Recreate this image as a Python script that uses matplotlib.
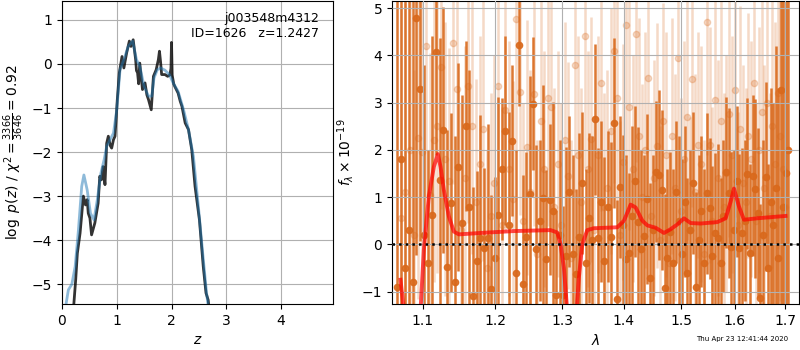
import numpy as np
import matplotlib
matplotlib.use("Agg")
import matplotlib.pyplot as plt
from matplotlib.ticker import NullLocator, FixedLocator, FixedFormatter

# ---------------- p(z) panel data ----------------
z_chi = [0.207, 0.25, 0.28, 0.33, 0.39, 0.43, 0.46, 0.48, 0.51, 0.54, 0.60, 0.66, 0.69, 0.72, 0.75, 0.785,
         0.816, 0.846, 0.88, 0.907, 0.94, 0.968, 1.01, 1.047, 1.096, 1.13, 1.18, 1.23, 1.26, 1.30,
         1.345, 1.36, 1.38, 1.40, 1.42, 1.47, 1.516, 1.55, 1.58, 1.63, 1.67, 1.72, 1.76, 1.78, 1.80, 1.82,
         1.88, 1.93, 1.97, 1.99, 2.0, 2.012, 2.04, 2.06, 2.12, 2.16, 2.19, 2.25, 2.31, 2.37, 2.43,
         2.51, 2.58, 2.63, 2.67, 2.69]
lnp_chi = [-5.6, -4.9, -4.3, -3.84, -3.0, -3.2, -3.08, -3.39, -3.5, -3.88, -3.61, -3.16, -2.55, -2.63, -2.33, -2.74,
           -1.80, -1.64, -1.85, -1.91, -1.72, -1.64, -0.81, -0.20, 0.17, -0.09, 0.25, 0.52, 0.40, 0.55,
           0.10, -0.15, -0.20, -0.45, 0.02, -0.58, -0.43, -0.7, -0.81, -1.04, -0.28, -0.13, 0.1, 0.29, 0.05, -0.24,
           -0.24, -0.28, -0.25, -0.1, 0.49, -0.25, -0.45, -0.51, -0.66, -0.85, -0.96, -1.34, -1.49, -1.95, -2.78,
           -3.54, -4.6, -5.2, -5.36, -5.6]

z_smooth = [0.055, 0.116, 0.18, 0.24, 0.30, 0.36, 0.40, 0.46, 0.52, 0.585, 0.645, 0.71, 0.77,
            0.816, 0.877, 0.94, 1.0, 1.06, 1.13, 1.21, 1.29, 1.36, 1.42, 1.50, 1.58, 1.64,
            1.68, 1.74, 1.80, 1.88, 1.96, 2.03, 2.12, 2.22, 2.31, 2.40, 2.49, 2.57, 2.64, 2.68]
lnp_smooth = [-5.6, -5.13, -5.0, -4.6, -3.77, -2.78, -2.52, -2.86, -3.39, -3.54, -3.08, -2.48, -2.17,
              -1.87, -1.72, -1.57, -1.04, -0.13, 0.10, 0.40, 0.52, 0.10, -0.05, -0.51, -0.73, -0.73,
              -0.32, -0.13, -0.09, -0.14, -0.24, -0.43, -0.62, -1.04, -1.49, -2.10, -3.23, -4.3, -5.2, -5.6]

# ---------------- spectrum panel data ----------------
flux_dark = [-0.9, 1.8, -0.5, 0.3, -0.8, 4.78,
             3.28, 0.2, -0.4, 0.61, 4.08, 1.36, 2.42, -0.47, 0.88, -0.80,
             1.63, 0.46, 2.51, 0.78, -1.09, -0.35, 0.13, -0.08, 0.14, -0.95,
             -0.28, 0.62, 1.59, 2.40, 0.41, 2.19, -0.61, 4.22, -0.83, 0.15,
             1.06, 2.98, -0.10, 0.50, 0.97, -0.32, 0.94, 0.71, -1.07, 0.20,
             -1.08, -0.25, 1.11, -0.20, -0.63, 0.15, 1.30, -0.40, 0.55, 0.10,
             2.65, 0.14, 0.90, -0.35, 0.80, 0.16, 2.56, -1.16, 1.21, 0.41,
             -0.31, -0.19, 0.60, 1.33, 0.48, -0.11, 0.18, 0.95, -0.71, 0.30,
             1.54, 1.47, 1.15, -0.93, -0.30,
             0.25, -0.4, 1.1, 0.5, -0.2, 0.9, -0.6, 0.3, 1.3, -0.9,
             0.1, 0.7, -0.4, 1.08, 0.76, -0.25, 0.23, 0.13, -0.40, 0.6,
             1.52, 1.08, -0.05, 0.30, 1.33, -0.08, 0.23, 0.5, 1.49, -0.19,
             1.45, 1.18, 0.66, -1.14, 0.2, 1.43, -0.5, 0.9, 0.4, 1.2, -0.3,
             3.27, 0.8, 1.5, 2.0]
err_dark = [7.0, 6.5, 6.0, 5.5, 6.0, 5.0,
            3.2, 3.6, 2.4, 3.8, 2.2, 3.0, 2.6, 2.9, 1.9, 3.1,
            2.2, 2.7, 1.8, 2.9, 2.3, 1.9, 2.6, 1.7, 2.4, 2.0,
            1.7, 2.5, 1.5, 2.0, 2.4, 1.6, 2.6, 1.3, 2.3, 1.8,
            2.5, 1.4, 2.2, 1.7, 2.4, 1.9, 1.6, 2.3, 1.8, 2.0,
            1.9, 2.3, 1.6, 2.1, 1.8, 2.2, 1.5, 2.0, 1.8, 2.2,
            1.6, 1.9, 1.7, 2.2, 1.6, 2.0, 1.8, 2.1, 1.5, 1.9,
            2.2, 1.7, 1.9, 1.6, 2.0, 2.1, 1.7, 1.8, 2.0, 1.6,
            1.5, 1.8, 1.7, 2.0, 1.9,
            1.7, 2.0, 1.5, 1.8, 2.0, 1.6, 2.0, 1.7, 1.5, 2.0,
            1.8, 1.6, 2.0, 1.7, 1.5, 1.9, 1.7, 2.0, 1.8, 1.6,
            1.6, 1.8, 2.0, 1.7, 1.6, 2.0, 1.8, 1.7, 1.6, 1.9,
            1.7, 1.9, 1.8, 2.0, 2.0, 2.0, 2.2, 2.4, 2.6, 3.0, 3.6,
            6.0, 7.0, 8.0, 8.0]
flux_light = [0.55, 1.1, 2.0, 0.2, 2.25, 1.95, 4.2, 1.05, 2.2, 2.5,
              3.75, 1.8, 1.35, 4.27, 3.28, 0.3, 1.4, 3.35, 2.5, 0.9,
              1.7, 2.45, -0.5, 0.6, 1.3, 3.35, 0.4, 2.85, 1.6, 0.95,
              4.76, 3.23, 0.5, 2.05, 1.1, 3.19, -0.2, 2.6, 1.6, 3.09,
              2.9, 0.8, 1.7, 0.4, 2.2, 1.45, -0.3, 3.8, 1.9, 0.9,
              4.41, 1.6, 2.22, 0.3, 1.9, 3.41, 0.8, 1.2, 2.4, 4.1,
              3.1, 0.2, 1.75, 4.64, 2.9, 1.6, 4.45, 2.3, 1.0, 2.0,
              3.53, 0.6, 1.4, 2.09, 0.1, 2.6, 1.9, -0.4, 2.3, 1.2,
              3.94, 0.7, 1.8, 2.7, 0.3, 3.50, 1.1, 2.1, 1.7, -0.2,
              4.70, 2.1, 0.5, 3.05, 1.4, 2.6, 0.8, 1.5, 2.75, 1.9,
              3.27, 0.4, 2.45, 1.3, 0.9, 2.3, 1.8, 3.41, 0.5, 2.0,
              2.8, 1.2, 3.0, 0.6, 2.5, 1.7, 3.2, 2.3, 1.6, 0.8]
err_light = [4.5, 4.0, 3.8, 3.5, 3.4, 3.2, 3.2, 3.0, 3.0, 3.1,
             3.0, 2.9, 2.8, 3.0, 2.9, 2.7, 2.8, 2.9, 2.7, 2.6,
             2.7, 2.8, 2.5, 2.6, 2.7, 2.8, 2.5, 2.6, 2.7, 2.5,
             2.8, 2.6, 2.5, 2.7, 2.6, 2.8, 2.4, 2.6, 2.5, 2.7,
             2.6, 2.5, 2.4, 2.6, 2.5, 2.4, 2.5, 2.7, 2.5, 2.4,
             2.8, 2.5, 2.6, 2.4, 2.5, 2.7, 2.4, 2.5, 2.6, 2.8,
             2.6, 2.4, 2.5, 2.8, 2.6, 2.4, 2.7, 2.5, 2.4, 2.5,
             2.6, 2.4, 2.5, 2.6, 2.4, 2.5, 2.6, 2.4, 2.5, 2.4,
             2.7, 2.4, 2.5, 2.6, 2.4, 2.7, 2.5, 2.4, 2.5, 2.4,
             2.8, 2.5, 2.4, 2.6, 2.5, 2.6, 2.4, 2.5, 2.6, 2.5,
             2.7, 2.4, 2.6, 2.5, 2.4, 2.6, 2.5, 2.7, 2.5, 2.6,
             2.7, 2.6, 2.8, 2.6, 3.0, 3.0, 3.3, 3.5, 3.8, 4.2]

wave_model = [1.0709, 1.0752, 1.0969, 1.1013, 1.1079, 1.1146, 1.1200, 1.1236, 1.1281, 1.1349,
              1.1417, 1.1486, 1.1788, 1.2270, 1.2823, 1.2926, 1.2978, 1.3030, 1.3082, 1.3230,
              1.3267, 1.3320, 1.3401, 1.3508, 1.3893, 1.4005, 1.4117, 1.4202, 1.4317, 1.4403,
              1.4547, 1.4694, 1.4812, 1.4931, 1.5051, 1.5172, 1.5355, 1.5665, 1.5823, 1.5918,
              1.5982, 1.6078, 1.6175, 1.6431, 1.6764, 1.7002]
flux_model = [-0.75, -1.4, -1.4, -0.12, 1.01, 1.64, 1.91, 1.64, 1.15, 0.59,
              0.27, 0.21, 0.24, 0.28, 0.30, 0.25, 0.0, -0.5, -1.4, -1.4,
              -0.7, 0.0, 0.30, 0.34, 0.36, 0.50, 0.84, 0.78, 0.50, 0.40,
              0.35, 0.24, 0.32, 0.42, 0.55, 0.45, 0.44, 0.47, 0.55, 0.90,
              1.18, 0.80, 0.52, 0.55, 0.58, 0.60]

xticks_right = [1.1, 1.2, 1.3, 1.4, 1.5, 1.6, 1.7]
xtick_labels_right = ["1.1", "1.2", "1.3", "1.4", "1.5", "1.6", "1.7"]

wave_dark = np.linspace(1.066, 1.706, len(flux_dark))
wave_light = np.linspace(1.072, 1.700, len(flux_light))

# ---------------- figure ----------------
fig = plt.figure(figsize=(8, 3.5), dpi=100)
ax1 = fig.add_axes([0.0775, 0.1314, 0.3388, 0.8657])
ax2 = fig.add_axes([0.49, 0.1314, 0.50875, 0.8657])

ax1.plot(z_chi, lnp_chi, color='k', alpha=0.8, lw=2)
ax1.plot(z_smooth, lnp_smooth, color='tab:blue', alpha=0.5, lw=2)
ax1.set_xlim(0, 4.95)
ax1.set_ylim(-5.45, 1.43)
ax1.set_xticks([0, 1, 2, 3, 4])
ax1.set_yticks([-5, -4, -3, -2, -1, 0, 1])
ax1.grid(True)
ax1.set_xlabel(r'$z$')
ax1.set_ylabel(r'$\log\ p(z)$' + ' / ' + r'$\chi^2=\frac{3366}{3646}=0.92$')
ax1.text(0.95, 0.965, 'j003548m4312\nID=1626   z=1.2427', ha='right', va='top',
         transform=ax1.transAxes, fontsize=9)

oc = '#d9691c'
ax2.errorbar(wave_light, flux_light, yerr=err_light, color=oc, alpha=0.25, marker='o',
             ms=4.5, linestyle='none', elinewidth=1.8, zorder=1)
ax2.errorbar(wave_dark, flux_dark, yerr=err_dark, color=oc, alpha=0.9, marker='o',
             ms=4.5, linestyle='none', elinewidth=1.8, zorder=2)
ax2.plot(wave_model, flux_model, color='r', alpha=0.7, lw=2.8, zorder=3)
ax2.axhline(0, color='k', ls=':', lw=1.8, zorder=4)
ax2.set_xscale('log')
ax2.set_xlim(1.06, 1.728)
ax2.set_ylim(-1.264, 5.15)
ax2.xaxis.set_major_locator(FixedLocator(xticks_right))
ax2.xaxis.set_major_formatter(FixedFormatter(xtick_labels_right))
ax2.xaxis.set_minor_locator(NullLocator())
ax2.set_yticks([-1, 0, 1, 2, 3, 4, 5])
ax2.set_axisbelow(False)
ax2.grid(True, zorder=5)
ax2.set_xlabel(r'$\lambda$')
ax2.set_ylabel(r'$f_\lambda\times10^{-19}$')

fig.text(0.985, 0.031, 'Thu Apr 23 12:41:44 2020', ha='right', va='center', fontsize=5)

fig.savefig('out.png', dpi=100)
